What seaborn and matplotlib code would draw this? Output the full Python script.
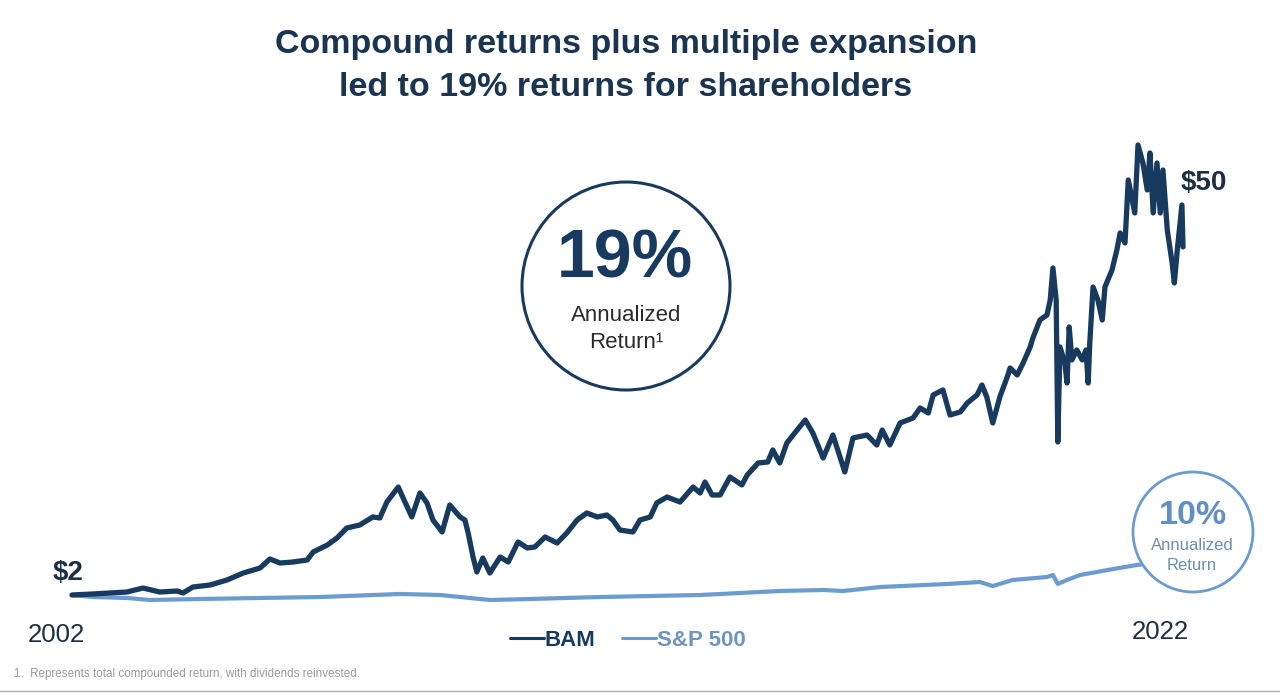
import matplotlib
matplotlib.use("Agg")
import matplotlib.pyplot as plt
import seaborn as sns
import pandas as pd
from matplotlib.lines import Line2D
from matplotlib.patches import Ellipse

# ---------------- data ----------------
bam_year = [2002.00, 2002.39, 2002.70, 2003.01, 2003.31, 2003.62, 2003.94, 2004.05, 2004.23, 2004.55,
            2004.86, 2005.16, 2005.47, 2005.65, 2005.84, 2006.08, 2006.34, 2006.45, 2006.71, 2006.89,
            2007.07, 2007.31, 2007.55, 2007.68, 2007.81, 2008.02, 2008.11, 2008.27, 2008.42, 2008.55,
            2008.66, 2008.83, 2008.97, 2009.16, 2009.25, 2009.31, 2009.40, 2009.47, 2009.58, 2009.71,
            2009.90, 2010.05, 2010.23, 2010.40, 2010.54, 2010.73, 2010.95, 2011.13, 2011.32, 2011.50,
            2011.69, 2011.87, 2011.98, 2012.11, 2012.35, 2012.48, 2012.67, 2012.79, 2012.98, 2013.22,
            2013.46, 2013.59, 2013.68, 2013.81, 2013.96, 2014.14, 2014.36, 2014.46, 2014.66, 2014.84,
            2014.93, 2015.06, 2015.19, 2015.38, 2015.53, 2015.67, 2015.86, 2016.04, 2016.26, 2016.41,
            2016.67, 2016.85, 2016.95, 2017.09, 2017.28, 2017.52, 2017.65, 2017.80, 2017.89, 2018.07,
            2018.20, 2018.39, 2018.52, 2018.70, 2018.79, 2018.88, 2018.99, 2019.12, 2019.27, 2019.31,
            2019.44, 2019.55, 2019.68, 2019.73, 2019.86, 2019.99, 2020.05, 2020.10, 2020.16, 2020.19,
            2020.23, 2020.32, 2020.36, 2020.40, 2020.45, 2020.54, 2020.64, 2020.71, 2020.75, 2020.78,
            2020.84, 2020.93, 2021.01, 2021.06, 2021.19, 2021.28, 2021.34, 2021.43, 2021.49, 2021.61,
            2021.67, 2021.76, 2021.84, 2021.89, 2021.95, 2022.02, 2022.08, 2022.13, 2022.21, 2022.30,
            2022.34, 2022.40, 2022.48, 2022.50]
bam_value = [2.00, 2.14, 2.28, 2.41, 2.96, 2.41, 2.55, 2.28, 3.10, 3.38,
             4.07, 5.03, 5.72, 6.96, 6.41, 6.55, 6.83, 7.93, 8.89, 9.86,
             11.24, 11.65, 12.76, 12.62, 14.82, 16.89, 15.38, 12.76, 16.07, 14.69,
             12.34, 10.69, 14.41, 12.76, 12.34, 10.55, 7.24, 5.17, 7.10, 5.03,
             7.24, 6.55, 9.31, 8.48, 8.62, 10.00, 9.17, 10.55, 12.34, 13.31,
             12.76, 13.03, 12.34, 10.96, 10.69, 12.34, 12.76, 14.69, 15.51, 14.82,
             16.89, 16.07, 17.58, 15.79, 15.79, 18.27, 17.17, 18.55, 20.20, 20.34,
             22.00, 20.20, 22.96, 24.75, 26.13, 24.34, 20.89, 24.06, 18.96, 23.65,
             24.06, 22.68, 24.75, 22.68, 25.72, 26.41, 27.79, 27.10, 29.58, 30.27,
             26.82, 27.24, 28.48, 29.58, 30.96, 29.30, 25.72, 29.30, 32.34, 33.30,
             32.34, 33.99, 36.20, 37.44, 39.92, 40.61, 42.68, 47.09, 42.68, 23.10,
             36.20, 33.99, 31.23, 38.96, 34.41, 35.79, 34.41, 35.79, 31.23, 36.75,
             44.47, 42.68, 39.92, 44.47, 46.82, 49.58, 51.92, 50.54, 59.23, 54.68,
             64.05, 61.57, 57.85, 62.95, 54.68, 61.57, 54.68, 60.60, 52.33, 47.78,
             45.02, 49.99, 55.78, 49.99]

sp_year = [2002.00, 2002.39, 2003.01, 2003.44, 2004.36, 2005.47, 2006.58, 2008.05, 2008.79, 2009.34,
           2009.71, 2010.45, 2011.74, 2012.67, 2013.59, 2015.06, 2015.86, 2016.23, 2016.91, 2018.15,
           2018.75, 2018.99, 2019.36, 2019.99, 2020.10, 2020.19, 2020.36, 2020.60, 2020.91, 2021.21,
           2021.65, 2022.08, 2022.50]
sp_value = [2.00, 1.72, 1.59, 1.31, 1.45, 1.59, 1.72, 2.14, 2.00, 1.59,
            1.31, 1.45, 1.72, 1.86, 2.00, 2.55, 2.69, 2.55, 3.10, 3.52,
            3.79, 3.24, 4.07, 4.48, 4.76, 3.52, 4.07, 4.76, 5.17, 5.58,
            6.14, 6.55, 6.41]

series_names = ["BAM", "S&P 500"]
title_lines = ["Compound returns plus multiple expansion", "led to 19% returns for shareholders"]
start_label, end_label = "$2", "$50"
year_labels = ["2002", "2022"]
bam_ret, sp_ret = "19%", "10%"
footnote = "1.  Represents total compounded return, with dividends reinvested."

NAVY = "#183a5e"
LIGHT = "#6b9bcf"
TITLE = "#1b3550"

# ---------------- figure ----------------
sns.set_theme(style="white")
plt.rcParams["font.family"] = ["Liberation Sans", "DejaVu Sans"]

W, H = 1280, 694
fig = plt.figure(figsize=(W / 100, H / 100), dpi=100)
fig.patch.set_facecolor("white")

def fx(px):
    return px / W

def fy(py):
    return 1 - py / H

# axes mapped so 2002.0 -> px 72 and 2022.5 -> px 1183; value 0 -> py 609.5, 65 -> py 138.1
ax = fig.add_axes([fx(72), fy(609.5), fx(1183 - 72), (609.5 - 138.1) / H])
ax.set_xlim(2002.0, 2022.5)
ax.set_ylim(0, 65)
ax.axis("off")

df_bam = pd.DataFrame({"year": bam_year, "value": bam_value})
df_sp = pd.DataFrame({"year": sp_year, "value": sp_value})

sns.lineplot(data=df_sp, x="year", y="value", ax=ax, color=LIGHT, lw=3.0,
             legend=False, clip_on=False, zorder=2)
sns.lineplot(data=df_bam, x="year", y="value", ax=ax, color=NAVY, lw=3.8,
             legend=False, clip_on=False, zorder=3)

# title
fig.text(fx(626), fy(45), title_lines[0], ha="center", va="center",
         fontsize=24.5, fontweight="bold", color=TITLE)
fig.text(fx(626), fy(87), title_lines[1], ha="center", va="center",
         fontsize=24.5, fontweight="bold", color=TITLE)

# big circle
fig.add_artist(Ellipse((fx(626), fy(286)), 2 * 104 / W, 2 * 104 / H,
                       transform=fig.transFigure, facecolor="white",
                       edgecolor=NAVY, lw=2.2, zorder=5))
fig.text(fx(625), fy(259), bam_ret, ha="center", va="center", fontsize=49,
         fontweight="bold", color=NAVY, zorder=6)
fig.text(fx(626), fy(315), "Annualized", ha="center", va="center", fontsize=16,
         color="#2b2b2b", zorder=6)
fig.text(fx(626), fy(343), "Return\u00b9", ha="center", va="center", fontsize=16,
         color="#2b2b2b", zorder=6)

# small circle
fig.add_artist(Ellipse((fx(1193), fy(532)), 2 * 60 / W, 2 * 60 / H,
                       transform=fig.transFigure, facecolor="white",
                       edgecolor=LIGHT, lw=2.0, zorder=5))
fig.text(fx(1193), fy(515), sp_ret, ha="center", va="center", fontsize=24.5,
         fontweight="bold", color="#5f8fc4", zorder=6)
fig.text(fx(1192), fy(546), "Annualized", ha="center", va="center", fontsize=12,
         color="#6c8fb5", zorder=6)
fig.text(fx(1192), fy(566), "Return", ha="center", va="center", fontsize=12,
         color="#6c8fb5", zorder=6)

# value labels
fig.text(fx(68), fy(573), start_label, ha="center", va="center", fontsize=20,
         fontweight="bold", color="#1d2f45")
fig.text(fx(1204), fy(183), end_label, ha="center", va="center", fontsize=20,
         fontweight="bold", color="#1d2f45")

# year labels
fig.text(fx(56), fy(635), year_labels[0], ha="center", va="center", fontsize=18.5,
         color="#1d2f45")
fig.text(fx(1160), fy(632), year_labels[1], ha="center", va="center", fontsize=18.5,
         color="#1d2f45")

# legend
handles = [Line2D([], [], color=NAVY, lw=2.2), Line2D([], [], color=LIGHT, lw=2.2)]
leg = fig.legend(handles, series_names, loc="center", bbox_to_anchor=(fx(628), fy(640)),
                 ncol=2, frameon=False, handlelength=1.5, handletextpad=0.05,
                 columnspacing=1.2, prop={"weight": "bold", "size": 16})
leg.get_texts()[0].set_color(NAVY)
leg.get_texts()[1].set_color("#6f94bd")

# footnote and bottom rule
fig.text(fx(14), fy(674), footnote, ha="left", va="center", fontsize=8.4, color="#9a9a9a")
fig.add_artist(Line2D([0, 1], [fy(691), fy(691)], transform=fig.transFigure,
                      color="#b0b0b0", lw=1.0))

fig.savefig("out.png", dpi=100, facecolor="white")
